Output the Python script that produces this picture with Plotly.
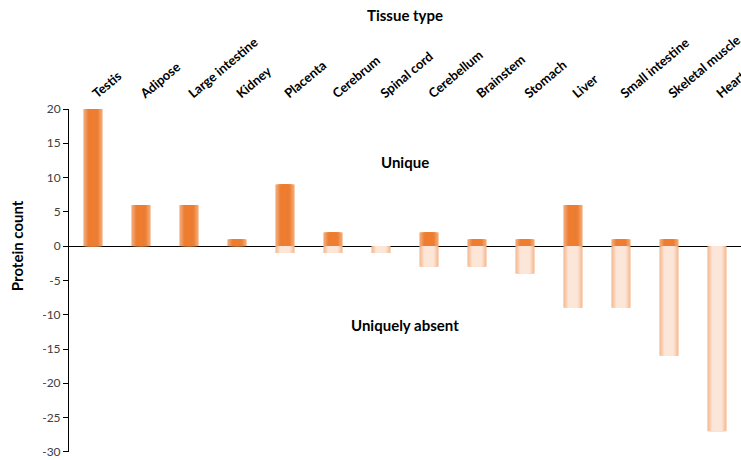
import plotly.graph_objects as go
import numpy as np

tissues = ["Testis", "Adipose", "Large intestine", "Kidney", "Placenta", "Cerebrum",
           "Spinal cord", "Cerebellum", "Brainstem", "Stomach", "Liver",
           "Small intestine", "Skeletal muscle", "Heart"]
unique = [20, 6, 6, 1, 9, 2, 0, 2, 1, 1, 6, 1, 1, 0]
absent = [0, 0, 0, 0, -1, -1, -1, -3, -3, -4, -9, -9, -16, -27]
yticks = [20, 15, 10, 5, 0, -5, -10, -15, -20, -25, -30]

def mix(c1, c2, t):
    a = np.array([int(c1[i:i+2], 16) for i in (1, 3, 5)])
    b = np.array([int(c2[i:i+2], 16) for i in (1, 3, 5)])
    c = (a + (b - a) * t).round().astype(int)
    return "rgb(%d,%d,%d)" % tuple(c)

fig = go.Figure()
N = 8
W = 0.4
for vals, edge, center in [(unique, "#F6B68A", "#ED7D31"), (absent, "#F4B183", "#FCE6D8")]:
    for k in range(N):
        w = W * (1 - k / N)
        t = min(1.0, (k + 1) / (N * 0.6))
        fig.add_trace(go.Bar(x=tissues, y=vals, width=w,
                             marker=dict(color=mix(edge, center, t), line=dict(width=0)),
                             showlegend=False, hoverinfo="skip"))

font = "Lato, 'Open Sans', sans-serif"
fig.update_layout(
    width=741, height=460, barmode="overlay",
    margin=dict(l=69, r=0, t=109, b=8),
    plot_bgcolor="white", paper_bgcolor="white",
    font=dict(family=font, color="#000000"),
    xaxis=dict(side="top", tickangle=-40, showline=False, ticks="", automargin=False,
               ticklabelstandoff=5,
               tickfont=dict(size=13, color="#000000", weight="bold"),
               showgrid=False),
    yaxis=dict(range=[-30.02, 20], tickvals=yticks, ticktext=[str(v) for v in yticks],
               ticks="outside", ticklen=5, automargin=False,
               tickcolor="#000000", showline=True, linecolor="#000000", linewidth=1,
               showgrid=False, zeroline=True, zerolinecolor="#000000", zerolinewidth=1,
               tickfont=dict(size=12, color="#404040")),
    annotations=[
        dict(text="<b>Tissue type</b>", x=0.5, xref="paper", y=1 + (109 - 15) / 343,
             yref="paper", yanchor="middle", showarrow=False, font=dict(size=15)),
        dict(text="<b>Unique</b>", x=0.5, xref="paper", y=12.3, yref="y",
             showarrow=False, font=dict(size=15)),
        dict(text="<b>Uniquely absent</b>", x=0.5, xref="paper", y=-11.5, yref="y",
             showarrow=False, font=dict(size=15)),
        dict(text="<b>Protein count</b>", textangle=-90, x=(17 - 69) / 672, xref="paper",
             xanchor="center", y=0, yref="y", showarrow=False, font=dict(size=15)),
    ],
)
fig.write_html("out.html", config={"displayModeBar": False},
               post_script="document.body.style.margin='0px';")
